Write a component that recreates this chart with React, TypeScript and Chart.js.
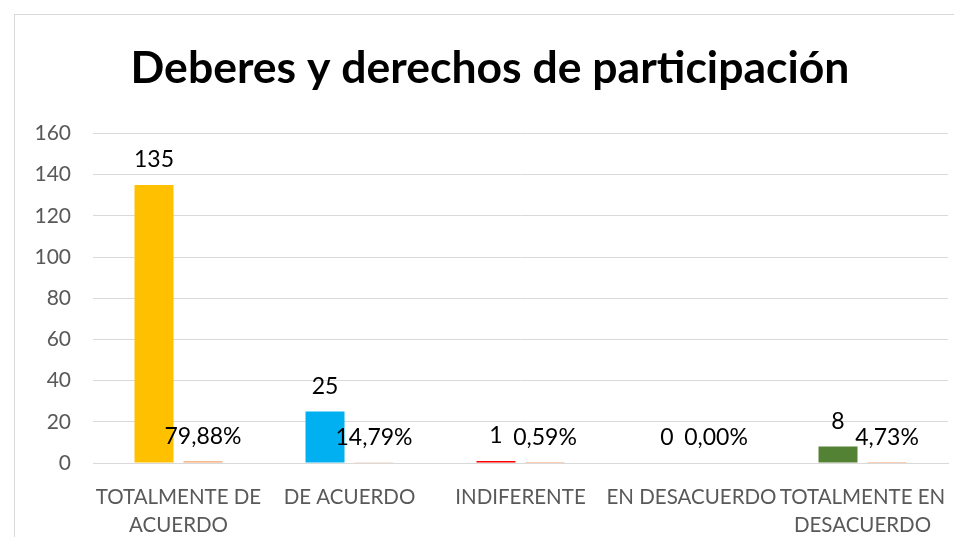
import React, { useEffect, useRef } from "react";
import { Chart, registerables } from "chart.js";

Chart.register(...registerables);

const TITLE = "Deberes y derechos de participación";
const CATEGORIES: (string | string[])[] = [
  ["TOTALMENTE DE", "ACUERDO"],
  "DE ACUERDO",
  "INDIFERENTE",
  "EN DESACUERDO",
  ["TOTALMENTE EN", "DESACUERDO"],
];
const COUNTS = [135, 25, 1, 0, 8];
const PERCENTS = [0.7988, 0.1479, 0.0059, 0.0, 0.0473];
const COUNT_COLORS = ["#FFC000", "#00B0F0", "#FF0000", "#A5A5A5", "#548235"];
const PERCENT_COLOR = "#F4A26A";
const Y_MIN = 0;
const Y_MAX = 160;
const Y_STEP = 20;

const FONT = "Lato, 'Noto Sans', sans-serif";

const fmtPct = (v: number) => (v * 100).toFixed(2).replace(".", ",") + "%";

const labelPlugin = {
  id: "valueLabels",
  afterDatasetsDraw(chart: any) {
    const ctx = chart.ctx;
    ctx.save();
    ctx.fillStyle = "#000000";
    ctx.font = `23px ${FONT}`;
    ctx.textAlign = "center";
    ctx.textBaseline = "middle";
    chart.data.datasets.forEach((ds: any, di: number) => {
      const meta = chart.getDatasetMeta(di);
      meta.data.forEach((el: any, i: number) => {
        const v = ds.data[i];
        const txt = di === 0 ? String(v) : fmtPct(v);
        ctx.fillText(txt, el.x, el.y - 25);
      });
    });
    ctx.restore();
  },
};

export default function App() {
  const ref = useRef<HTMLCanvasElement | null>(null);
  useEffect(() => {
    if (!ref.current) return;
    const chart = new Chart(ref.current, {
      type: "bar",
      data: {
        labels: CATEGORIES,
        datasets: [
          {
            label: "Frecuencia",
            data: COUNTS,
            backgroundColor: COUNT_COLORS,
            categoryPercentage: 0.573,
            barPercentage: 0.796,
          },
          {
            label: "Porcentaje",
            data: PERCENTS,
            backgroundColor: PERCENT_COLOR,
            categoryPercentage: 0.573,
            barPercentage: 0.796,
          },
        ],
      },
      options: {
        responsive: false,
        animation: false,
        layout: { padding: { left: 17, right: 17, top: 0, bottom: 0 } },
        plugins: {
          legend: { display: false },
          tooltip: { enabled: false },
          title: {
            display: true,
            text: TITLE,
            color: "#000000",
            font: { family: FONT, size: 44.5, weight: "bold", lineHeight: 1.2 },
            padding: { top: 27, bottom: 38 },
          },
        },
        scales: {
          x: {
            grid: { display: false },
            border: { display: true, color: "#D9D9D9", width: 1 },
            ticks: {
              color: "#595959",
              font: { family: FONT, size: 20.5, lineHeight: "28px" },
              maxRotation: 0,
              autoSkip: false,
              padding: 12,
            },
            afterFit: (s: any) => {
              s.height = 74;
            },
          },
          y: {
            min: Y_MIN,
            max: Y_MAX,
            grid: { color: "#D9D9D9", lineWidth: 1, drawTicks: false },
            border: { display: false },
            ticks: {
              stepSize: Y_STEP,
              color: "#595959",
              font: { family: FONT, size: 21 },
              padding: 22,
            },
            afterFit: (s: any) => {
              s.width = 61;
            },
          },
        },
      },
      plugins: [labelPlugin],
    } as any);
    return () => chart.destroy();
  }, []);
  return (
    <div>
      <div
        style={{
          position: "fixed",
          left: 14,
          top: 14,
          width: 960,
          height: 540,
          border: "1px solid #D9D9D9",
          boxSizing: "border-box",
          background: "#fff",
        }}
      />
      <canvas
        ref={ref}
        width={950}
        height={522}
        style={{ position: "fixed", left: 15, top: 15, width: 950, height: 522 }}
      />
    </div>
  );
}
